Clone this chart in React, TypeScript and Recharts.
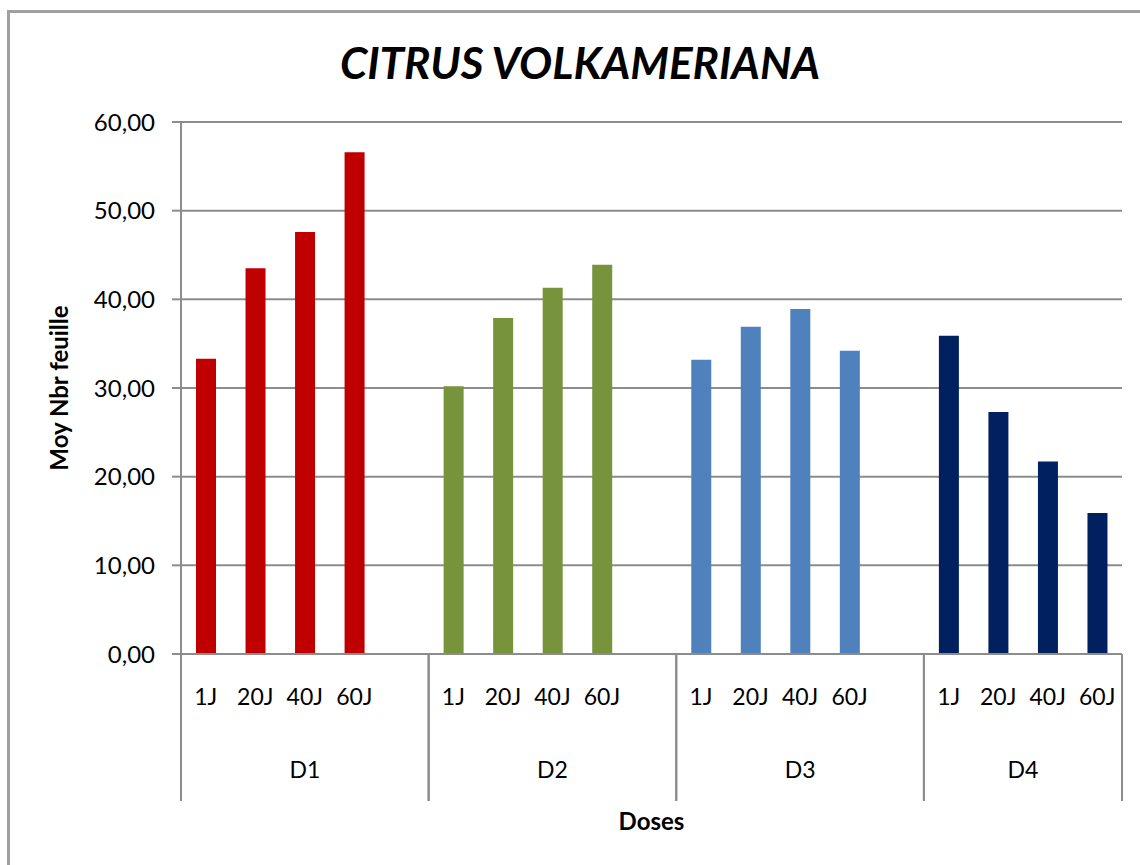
import React from 'react';
import { BarChart, Bar, XAxis, YAxis, CartesianGrid, Cell } from 'recharts';

const title = 'CITRUS VOLKAMERIANA';
const yAxisTitle = 'Moy Nbr feuille';
const xAxisTitle = 'Doses';

const groups = ['D1', 'D2', 'D3', 'D4'];
const days = ['1J', '20J', '40J', '60J'];

const d1Values = [33.3, 43.5, 47.6, 56.6];
const d2Values = [30.2, 37.9, 41.3, 43.9];
const d3Values = [33.2, 36.9, 38.9, 34.2];
const d4Values = [35.9, 27.3, 21.7, 15.9];

const yTicks = [0, 10, 20, 30, 40, 50, 60];

const groupValues = [d1Values, d2Values, d3Values, d4Values];
const groupColors = ['#C00000', '#77933C', '#4F81BD', '#002060'];

const GRID = '#8c8c8c';
const FONT = 'Lato, "Open Sans", sans-serif';

type Row = {
  key: string;
  day: string;
  group: string;
  value: number | null;
  color: string;
  first: boolean;
  last: boolean;
  span: number;
};

const rows: Row[] = [];
groups.forEach((g, gi) => {
  const hasGap = gi < groups.length - 1;
  const span = days.length + (hasGap ? 1 : 0);
  days.forEach((d, di) => {
    rows.push({
      key: `${g}-${d}`,
      day: d,
      group: g,
      value: groupValues[gi][di],
      color: groupColors[gi],
      first: di === 0,
      last: !hasGap && di === days.length - 1,
      span,
    });
  });
  if (hasGap) {
    rows.push({
      key: `${g}-gap`,
      day: '',
      group: g,
      value: null,
      color: groupColors[gi],
      first: false,
      last: true,
      span,
    });
  }
});

const XTick = (props: any) => {
  const { x, y, payload, index } = props;
  const row = rows[index];
  const half = payload && typeof payload.offset === 'number' ? payload.offset : 0;
  return (
    <g>
      {row.day ? (
        <text x={x} y={y + 51} textAnchor="middle" fontSize={23} fontFamily={FONT} fill="#000">
          {row.day}
        </text>
      ) : null}
      {row.first ? (
        <>
          <line x1={x - half} x2={x - half} y1={y} y2={y + 147} stroke={GRID} strokeWidth={2} />
          <text
            x={x - half + row.span * half}
            y={y + 124}
            textAnchor="middle"
            fontSize={23}
            fontFamily={FONT}
            fill="#000"
          >
            {row.group}
          </text>
        </>
      ) : null}
      {row.last ? (
        <line x1={x + half} x2={x + half} y1={y} y2={y + 147} stroke={GRID} strokeWidth={2} />
      ) : null}
    </g>
  );
};

const fmt = (v: number) => v.toFixed(2).replace('.', ',');

export default function App() {
  return (
    <div
      style={{
        position: 'fixed',
        left: 0,
        top: 0,
        width: 1140,
        height: 865,
        overflow: 'hidden',
        background: '#fff',
      }}
    >
      <div
        style={{
          position: 'absolute',
          left: 7,
          top: 10,
          width: 1200,
          height: 900,
          border: '3px solid #a0a0a0',
          boxSizing: 'border-box',
        }}
      />
      <div style={{ position: 'absolute', left: 0, top: 0 }}>
        <BarChart
          width={1140}
          height={865}
          data={rows}
          margin={{ top: 122, right: 18, bottom: 64, left: 0 }}
          barSize={20}
        >
          <CartesianGrid horizontal vertical={false} stroke={GRID} strokeWidth={2} />
          <XAxis
            dataKey="key"
            interval={0}
            tickLine={false}
            tickSize={0}
            tickMargin={0}
            height={147}
            axisLine={{ stroke: GRID, strokeWidth: 2 }}
            tick={<XTick />}
            label={{
              value: xAxisTitle,
              position: 'bottom',
              offset: 12,
              style: { fontSize: 24, fontWeight: 700, fontFamily: FONT, fill: '#000' },
            }}
          />
          <YAxis
            width={181}
            domain={[0, 60]}
            ticks={yTicks}
            interval={0}
            tickFormatter={fmt}
            tickSize={9}
            tickMargin={17}
            tickLine={{ stroke: GRID, strokeWidth: 2 }}
            axisLine={{ stroke: GRID, strokeWidth: 2 }}
            tick={{ fontSize: 24, fontFamily: FONT, fill: '#000' }}
            label={{
              value: yAxisTitle,
              angle: -90,
              position: 'insideLeft',
              offset: 59,
              style: { fontSize: 24, fontWeight: 700, fontFamily: FONT, fill: '#000', textAnchor: 'middle' },
            }}
          />
          <Bar dataKey="value" isAnimationActive={false}>
            {rows.map((r) => (
              <Cell key={r.key} fill={r.color} />
            ))}
          </Bar>
        </BarChart>
      </div>
      <svg
        width={1140}
        height={120}
        style={{ position: 'absolute', left: 0, top: 0, pointerEvents: 'none' }}
      >
        <text
          x={580}
          y={79}
          textAnchor="middle"
          fontSize={44}
          fontWeight={700}
          fontStyle="italic"
          fontFamily={FONT}
          fill="#000"
        >
          {title}
        </text>
      </svg>
    </div>
  );
}
